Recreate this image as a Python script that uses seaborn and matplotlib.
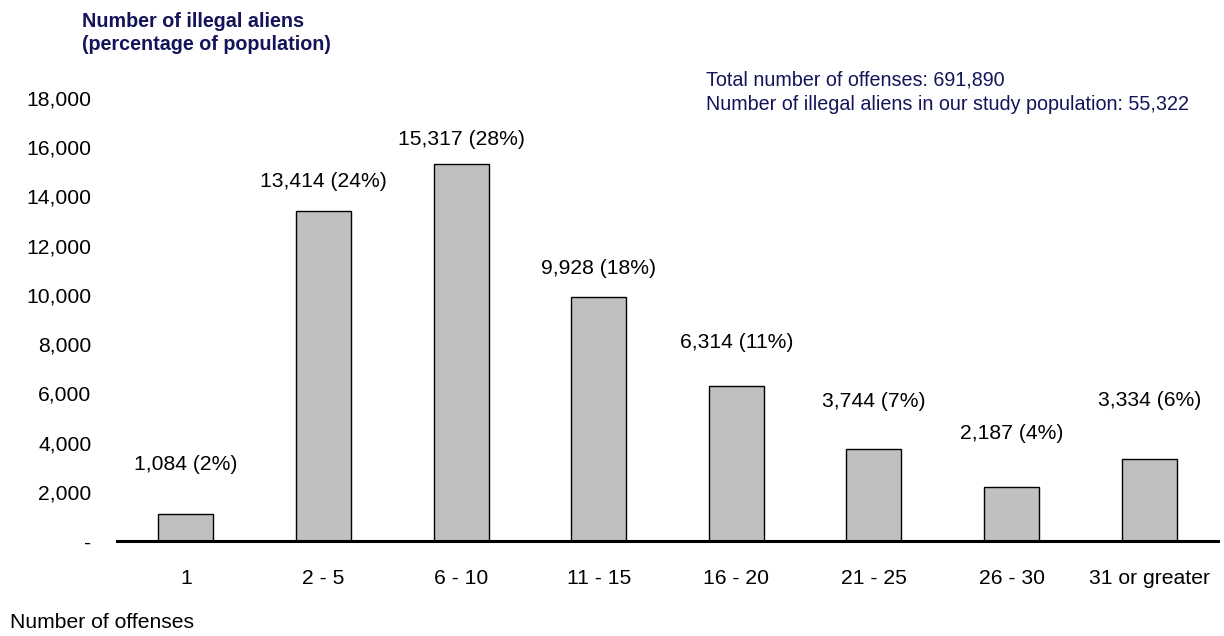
import matplotlib
matplotlib.use("Agg")
import matplotlib.pyplot as plt
import seaborn as sns
import pandas as pd

# Offense-count buckets and the number of illegal aliens in each
categories = ["1", "2 - 5", "6 - 10", "11 - 15", "16 - 20", "21 - 25", "26 - 30", "31 or greater"]
counts = [1084, 13414, 15317, 9928, 6314, 3744, 2187, 3334]
percents = [2, 24, 28, 18, 11, 7, 4, 6]
y_ticks = [0, 2000, 4000, 6000, 8000, 10000, 12000, 14000, 16000, 18000]
y_tick_labels = ["-", "2,000", "4,000", "6,000", "8,000", "10,000", "12,000", "14,000", "16,000", "18,000"]

df = pd.DataFrame({"category": categories, "count": counts})

sns.set_theme(style="white")
plt.rcParams["font.family"] = ["Liberation Sans", "DejaVu Sans"]

navy = "#14145a"
fs = 15.2
fig = plt.figure(figsize=(12.24, 6.36), dpi=100)
ax = fig.add_axes([117 / 1224, 1 - 541 / 636, (1218 - 117) / 1224, (541 - 98) / 636 / 0.9])

sns.barplot(data=df, x="category", y="count", color="#c0c0c0", edgecolor="black",
            linewidth=1.0, width=0.4, saturation=1, ax=ax)

ax.set_xlim(-0.5, len(categories) - 0.5)
ax.set_ylim(0, 20000)
ax.set_yticks(y_ticks)
ax.set_yticklabels(y_tick_labels)
ax.set_xlabel("")
ax.set_ylabel("")
ax.tick_params(axis="y", labelsize=fs, length=0, pad=18.5)
ax.tick_params(axis="x", labelsize=fs, length=0, pad=20)
for lbl in ax.get_xticklabels() + ax.get_yticklabels():
    lbl.set_color("black")

for side in ["top", "right", "left"]:
    ax.spines[side].set_visible(False)
ax.spines["bottom"].set_color("black")
ax.spines["bottom"].set_linewidth(2.2)

# Value labels above each bar (hand-placed heights in points above the bar top)
label_lift = [36, 21, 18, 20, 31, 34, 39, 42]
for i, (c, p) in enumerate(zip(counts, percents)):
    ax.annotate(f"{c:,} ({p}%)", xy=(i, c), xytext=(0, label_lift[i]),
                textcoords="offset points", ha="center", va="center",
                fontsize=fs, color="black")

fig.text(82 / 1224, 1 - 12 / 636, "Number of illegal aliens\n(percentage of population)",
         ha="left", va="top", fontsize=14.2, fontweight="bold", color=navy, linespacing=1.3)
fig.text(706 / 1224, 1 - 71 / 636,
         "Total number of offenses: 691,890\nNumber of illegal aliens in our study population: 55,322",
         ha="left", va="top", fontsize=14.2, color=navy, linespacing=1.3)
fig.text(10 / 1224, 1 - 628 / 636, "Number of offenses", ha="left", va="baseline",
         fontsize=fs, color="black")

fig.savefig("out.png", dpi=100)
